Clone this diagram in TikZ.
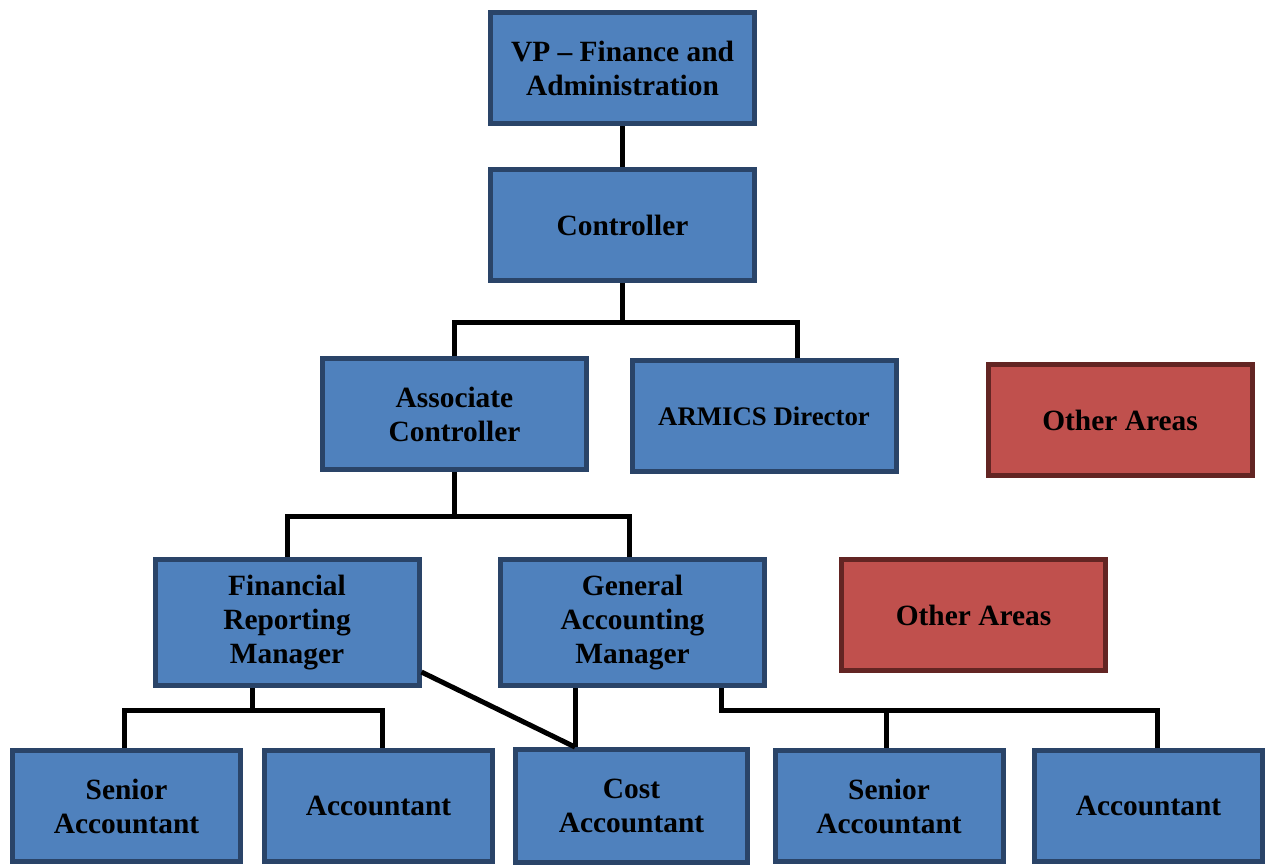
\documentclass[tikz,border=0pt]{standalone}
\usepackage{fontspec}
\setmainfont{Liberation Serif}
\usetikzlibrary{calc}
\definecolor{boxblue}{HTML}{4F81BD}
\definecolor{boxblueline}{HTML}{2A4468}
\definecolor{boxred}{HTML}{C0504D}
\definecolor{boxredline}{HTML}{632523}
\begin{document}
\begin{tikzpicture}[x=0.5pt, y=-0.5pt,
  orgbox/.style={draw=boxblueline, fill=boxblue, line width=2.5pt,
    minimum width=132pt, minimum height=55.5pt, inner sep=0pt, align=center,
    font=\fontsize{14.7}{17}\selectfont\bfseries},
  otherbox/.style={orgbox, draw=boxredline, fill=boxred},
  staffbox/.style={orgbox, minimum width=114pt},
  tallbox/.style={orgbox, minimum height=63pt},
  link/.style={line width=2.5pt, black}]
\useasboundingbox (0,0) rectangle (1272,864);

% boxes
\node[orgbox] (vp) at (622.5,68) {VP -- Finance and\\Administration};
\node[orgbox] (ctrl) at (622.5,225) {Controller};
\node[orgbox] (assoc) at (454.5,414) {Associate\\Controller};
\node[orgbox, font=\fontsize{13.4}{16}\selectfont\bfseries] (armics) at (764,416) {ARMICS Director};
\node[otherbox] (oa1) at (1120,420) {Other Areas};
\node[tallbox] (frm) at (287,622.5) {Financial\\Reporting\\Manager};
\node[tallbox] (gam) at (632.5,622.5) {General\\Accounting\\Manager};
\node[otherbox] (oa2) at (973.5,615) {Other Areas};
\node[staffbox] (sa1) at (126.5,806) {Senior\\Accountant};
\node[staffbox] (acc1) at (378.5,806) {Accountant};
\node[staffbox, minimum width=116pt, minimum height=56.5pt] (cost) at (631.5,806) {Cost\\Accountant};
\node[staffbox] (sa2) at (889,806) {Senior\\Accountant};
\node[staffbox] (acc2) at (1148.5,806) {Accountant};

% junction points of the connector bars
\coordinate (b1l) at (454.5,322);
\coordinate (b1r) at (797,322);
\coordinate (b2l) at (287,516);
\coordinate (b2r) at (629,516);
\coordinate (f3) at (252,710);
\coordinate (b3l) at (124,710);
\coordinate (b3r) at (382,710);
\coordinate (g3) at (721,710);
\coordinate (b4l) at (886,710);
\coordinate (b4r) at (1157,710);
\coordinate (ct) at ($(cost.north)+(-56.5,0)$);
\coordinate (fd) at ($(frm.south east)+(0,-16)$);

% connectors
\draw[link] (vp.south) -- (ctrl.north);
\draw[link] (ctrl.south) -- (ctrl.south |- b1l);
\draw[link] (assoc.north) -- (b1l) -- (b1r) -- (b1r |- armics.north);
\draw[link] (assoc.south) -- (assoc.south |- b2l);
\draw[link] (frm.north) -- (b2l) -- (b2r) -- (b2r |- gam.north);
\draw[link] (f3 |- frm.south) -- (f3);
\draw[link] (b3l |- sa1.north) -- (b3l) -- (b3r) -- (b3r |- acc1.north);
\draw[link] (fd) -- (ct);
\draw[link] (ct |- gam.south) -- (ct);
\draw[link] (g3 |- gam.south) -- (g3) -- (b4r) -- (b4r |- acc2.north);
\draw[link] (b4l) -- (b4l |- sa2.north);
\end{tikzpicture}
\end{document}
